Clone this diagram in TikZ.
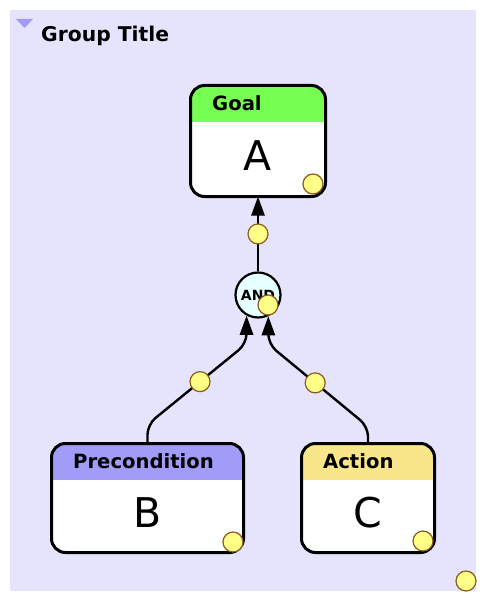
\documentclass[tikz,border=0pt]{standalone}
\usepackage{fontspec}
\setmainfont{DejaVu Sans}
\usetikzlibrary{arrows.meta,calc}
\definecolor{bg}{RGB}{230,228,252}
\definecolor{tri}{RGB}{160,156,248}
\definecolor{goalc}{RGB}{118,255,82}
\definecolor{prec}{RGB}{160,156,248}
\definecolor{actc}{RGB}{250,230,138}
\definecolor{dotc}{RGB}{255,255,136}
\definecolor{dotb}{RGB}{140,90,30}
\definecolor{andc}{RGB}{230,255,255}
\begin{document}
\begin{tikzpicture}[x=1pt,y=-1pt,
  box/.style={draw, line width=3pt, rounded corners=14pt, fill=white, inner sep=0pt, outer sep=0pt, minimum height=110pt},
  hdr/.style={path picture={\fill[#1, sharp corners] ([yshift=2pt]path picture bounding box.north west) rectangle ([yshift=-36.5pt]path picture bounding box.north east);}},
  hlabel/.style={anchor=west, inner sep=0pt, font=\bfseries\fontsize{19.6}{21}\selectfont},
  big/.style={inner sep=0pt, font=\fontsize{41}{44}\selectfont},
  dot/.style={circle, draw=dotb, line width=1.2pt, fill=dotc, minimum size=20pt, inner sep=0pt},
  arrowtip/.style={-{Triangle[length=16pt 0,width=11pt 0,scale=1.2]}},
  conn/.style={line width=2.4pt, arrowtip, rounded corners=10pt}]
\useasboundingbox (0,0) rectangle (488,604);
\fill[bg] (10,10) rectangle (476,591);
\fill[tri] (16,19) -- (33,19) -- (24.5,28) -- cycle;
\node[anchor=west, inner sep=0pt, font=\bfseries\fontsize{20.3}{22}\selectfont] (title) at (41,36) {Group Title};

% Goal box
\node[box, hdr=goalc, minimum width=135pt, minimum height=111pt] (A) at (258,141) {};
\node[hlabel] (Alab) at ($(A.north west)+(21.5,17.5)$) {Goal};
\node[big] (Atxt) at ($(A.north)+(0,70)$) {A};
\node[dot] (Adot) at ($(A.south east)+(-12.5,-12.5)$) {};

% Precondition box
\node[box, hdr=prec, minimum width=192pt, minimum height=109pt] (B) at (147.5,498) {};
\node[hlabel] (Blab) at ($(B.north west)+(21.5,17.5)$) {Precondition};
\node[big] (Btxt) at ($(B.north)+(0,69.5)$) {B};
\node[dot] (Bdot) at ($(B.south east)+(-10.5,-10.5)$) {};

% Action box
\node[box, hdr=actc, minimum width=133pt, minimum height=109pt] (C) at (368,498) {};
\node[hlabel] (Clab) at ($(C.north west)+(21.5,17.5)$) {Action};
\node[big] (Ctxt) at ($(C.north)+(0,69.5)$) {C};
\node[dot] (Cdot) at ($(C.south east)+(-11.5,-11.5)$) {};

% AND node
\node[circle, draw, line width=2.2pt, fill=andc, minimum size=45pt, inner sep=0pt, font=\bfseries\fontsize{14}{15}\selectfont] (and) at (258,295) {AND};
\node[dot] (anddot) at (268,305) {};

% connectors
\draw[conn] (and.north) -- (A.south);
\node[dot] (d1) at ($(and.north)!0.5!(A.south)$) {};

\coordinate (l1) at ($(B.north)+(0,-19)$);
\coordinate (l2) at ($(and.-119)+(0,28)$);
\draw[conn] (B.north) -- (l1) -- (l2) -- (and.-119);
\node[dot] (d2) at ($(l1)!0.53!(l2)$) {};

\coordinate (r1) at ($(C.north)+(0,-17)$);
\coordinate (r2) at ($(and.-64)+(0,28)$);
\draw[conn] (C.north) -- (r1) -- (r2) -- (and.-64);
\node[dot] (d3) at ($(r1)!0.53!(r2)$) {};

\node[dot] (free) at (466,581) {};
\end{tikzpicture}
\end{document}
